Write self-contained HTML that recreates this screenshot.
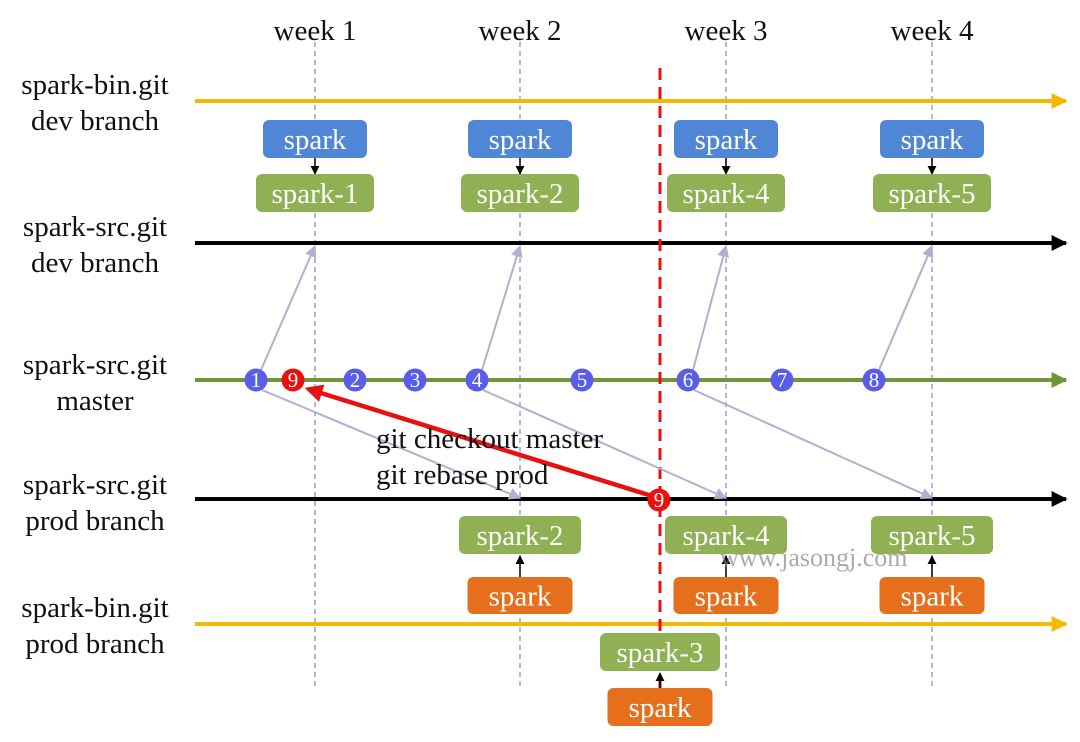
<!DOCTYPE html>
<html><head><meta charset="utf-8"><style>
html,body{margin:0;padding:0;background:#fff}
svg{display:block;font-family:"Liberation Serif",serif}
</style></head><body>
<svg id="d" width="1080" height="742" viewBox="0 0 1080 742">
<defs>
<marker id="ay" viewBox="0 0 10 10" refX="9" refY="5" markerWidth="4" markerHeight="4" orient="auto"><path d="M0,0L10,5L0,10z" fill="#f5b800"/></marker>
<marker id="ab" viewBox="0 0 10 10" refX="9" refY="5" markerWidth="4" markerHeight="4" orient="auto"><path d="M0,0L10,5L0,10z" fill="#000"/></marker>
<marker id="ag" viewBox="0 0 10 10" refX="9" refY="5" markerWidth="4" markerHeight="4" orient="auto"><path d="M0,0L10,5L0,10z" fill="#70963a"/></marker>
<marker id="ap" viewBox="0 0 10 10" refX="9" refY="5" markerWidth="6" markerHeight="6" orient="auto"><path d="M0,0L10,5L0,10z" fill="#b4aed0"/></marker>
<marker id="ar" viewBox="0 0 10 10" refX="8" refY="5" markerWidth="4" markerHeight="4" orient="auto"><path d="M0,0L10,5L0,10z" fill="#e81010"/></marker>
<marker id="ak" viewBox="0 0 10 10" refX="9" refY="5" markerWidth="6" markerHeight="6" orient="auto"><path d="M0,0L10,5L0,10z" fill="#000"/></marker>
</defs>
<g id="g"></g>
</svg>
<script>
const weeks=["week 1","week 2","week 3","week 4"];
const weekX=[315,520,726,932];
const devLabels=["spark-1","spark-2","spark-4","spark-5"];
const prodLabels=["spark-2","spark-4","spark-5"];
const prodWeekIdx=[1,2,3];
const commits=["1","9","2","3","4","5","6","7","8"];
const commitX=[256,293,355,415,477,582,688,782,874];
const g=document.getElementById('g');
const NS='http://www.w3.org/2000/svg';
const FS=29;
function el(t,a,txt){const e=document.createElementNS(NS,t);for(const k in a)e.setAttribute(k,a[k]);if(txt!==undefined)e.textContent=txt;g.appendChild(e);return e;}
weeks.forEach((w,i)=>{
 let t=el('text',{x:weekX[i],y:40,'text-anchor':'middle','font-size':FS,fill:'#111'},w);
 
 
 let l=el('line',{x1:weekX[i],y1:42,x2:weekX[i],y2:688,stroke:'#6d8fc4','stroke-width':1.2,'stroke-dasharray':'5,4'});
 
 
});
const rows=[["spark-bin.git","dev branch",94,130],["spark-src.git","dev branch",236,272],["spark-src.git","master",374,410],["spark-src.git","prod branch",494,530],["spark-bin.git","prod branch",617,653]];
rows.forEach(r=>{
 let t=el('text',{x:95,y:r[2],'text-anchor':'middle','font-size':FS,fill:'#111'},r[0]);
 
 
 let t2=el('text',{x:95,y:r[3],'text-anchor':'middle','font-size':FS,fill:'#111'},r[1]);
 
 
});
function branch(y,c,m,w,name){let l=el('line',{x1:195,y1:y,x2:1066,y2:y,stroke:c,'stroke-width':w,'marker-end':'url(#'+m+')'});
 
 }
branch(101,'#f5b800','ay',4,'bin-dev-branch');
branch(243,'#000','ab',4,'src-dev-branch');
branch(380,'#70963a','ag',4,'master-branch');
branch(499,'#000','ab',4,'src-prod-branch');
branch(624,'#f5b800','ay',4,'bin-prod-branch');
let rl=el('line',{x1:660,y1:68,x2:660,y2:692,stroke:'#e81010','stroke-width':3,'stroke-dasharray':'12,7'});


function box(cx,y,w,h,fill,label,name){
 let r=el('rect',{x:cx-w/2,y:y,width:w,height:h,rx:6,fill:fill});
 
 
 let t=el('text',{x:cx,y:y+h/2+10,'text-anchor':'middle','font-size':FS,fill:'#fff'},label);
 
 
}
function darr(x,y1,y2){let l=el('line',{x1:x,y1:y1,x2:x,y2:y2,stroke:'#000','stroke-width':1.5,'marker-end':'url(#ak)'});
 
 }
weekX.forEach((x,i)=>{box(x,120,104,38,'#4f87d6','spark','spark-source-box');darr(x,158,174);box(x,174,118,38,'#8fb153',devLabels[i],'dev-build-box');});
function garr(x1,y1,x2,y2){let l=el('line',{x1,y1,x2,y2,stroke:'#b4aed0','stroke-width':2,'marker-end':'url(#ap)'});
 
 }
[[0,0],[4,1],[6,2],[8,3]].forEach(p=>garr(commitX[p[0]]+5,370,weekX[p[1]],246));
[[0,1],[4,2],[6,3]].forEach(p=>garr(commitX[p[0]]+6,390,weekX[p[1]],498));
prodLabels.forEach((lab,i)=>{const x=weekX[prodWeekIdx[i]];box(x,516,122,38,'#8fb153',lab,'prod-build-box');darr(x,577,556);box(x,577,105,37,'#e66f1d','spark','prod-spark-box');});
box(660,633,120,38,'#8fb153','spark-3','hotfix-build-box');darr(660,688,673);box(660,688,105,38,'#e66f1d','spark','hotfix-spark-box');
let ra=el('line',{x1:652,y1:496,x2:308,y2:389,stroke:'#e81010','stroke-width':4.5,'marker-end':'url(#ar)'});


commits.forEach((c,i)=>{
 const red=c==="9";
 let ci=el('circle',{cx:commitX[i],cy:380,r:11.5,fill:red?'#e81010':'#5a5de8'});
 
 
 let t=el('text',{x:commitX[i],y:387,'text-anchor':'middle','font-size':21,fill:'#fff'},c);
 
 
});
let c9=el('circle',{cx:659,cy:500,r:11.5,fill:'#e81010'});


let t9=el('text',{x:659,y:507,'text-anchor':'middle','font-size':21,fill:'#fff'},'9');


let a1=el('text',{x:376,y:448,'font-size':FS,fill:'#111'},'git checkout master');


let a2=el('text',{x:376,y:484,'font-size':FS,fill:'#111'},'git rebase prod');


let wm=el('text',{x:720,y:566,'font-size':26,fill:'#888','fill-opacity':0.7},'www.jasongj.com');


</script>
</body></html>
